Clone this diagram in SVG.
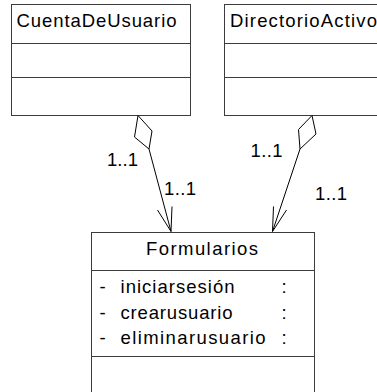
<svg xmlns="http://www.w3.org/2000/svg" width="377" height="392" viewBox="0 0 377 392">
<style>
.box{fill:#fff;stroke:#3c3c3c;stroke-width:1}
.ln{stroke:#3c3c3c;stroke-width:1;fill:none}
.t{font-family:"Liberation Sans",Arial,sans-serif;font-size:18.5px;fill:#000}
.c{stroke:#000;stroke-width:1;fill:none}
.d{stroke:#000;stroke-width:1;fill:#fff}
</style>
<rect width="377" height="392" fill="#fff"/>
<g id="CuentaDeUsuario">
<rect class="box" x="11.5" y="4.5" width="179" height="111"/>
<line class="ln" x1="11.5" y1="43.5" x2="190.5" y2="43.5"/>
<line class="ln" x1="11.5" y1="77.5" x2="190.5" y2="77.5"/>
<text class="t" x="16.5" y="27" textLength="160" lengthAdjust="spacing">CuentaDeUsuario</text>
</g>
<g id="DirectorioActivo">
<rect class="box" x="224.5" y="4.5" width="170" height="111"/>
<line class="ln" x1="224.5" y1="43.5" x2="394.5" y2="43.5"/>
<line class="ln" x1="224.5" y1="77.5" x2="394.5" y2="77.5"/>
<text class="t" x="230" y="27" textLength="147" lengthAdjust="spacing">DirectorioActivo</text>
</g>
<g id="Formularios">
<rect class="box" x="91.5" y="232.5" width="223" height="170"/>
<line class="ln" x1="91.5" y1="270.5" x2="314.5" y2="270.5"/>
<line class="ln" x1="91.5" y1="356.5" x2="314.5" y2="356.5"/>
<text class="t" x="146" y="255" textLength="112" lengthAdjust="spacing">Formularios</text>
<text class="t" x="99.5" y="293">-</text>
<text class="t" x="120.5" y="293" textLength="114" lengthAdjust="spacing">iniciarsesión</text>
<text class="t" x="281.5" y="293">:</text>
<text class="t" x="99.5" y="319">-</text>
<text class="t" x="120.5" y="319" textLength="112" lengthAdjust="spacing">crearusuario</text>
<text class="t" x="281.5" y="319">:</text>
<text class="t" x="99.5" y="343.5">-</text>
<text class="t" x="120.5" y="343.5" textLength="145" lengthAdjust="spacing">eliminarusuario</text>
<text class="t" x="281.5" y="343.5">:</text>
</g>
<g id="connectors">
<polygon class="d" points="138,115.5 152,131 149,149 134.5,137"/>
<line class="c" x1="149" y1="149" x2="171" y2="231.5"/>
<polyline class="c" points="157.5,210 171,231.5 172,206.5"/>
<text class="t" x="107" y="165.5" textLength="31" lengthAdjust="spacing">1..1</text>
<text class="t" x="164" y="195" textLength="32" lengthAdjust="spacing">1..1</text>
<polygon class="d" points="312,115.5 316,134 300,149 298.5,129.5"/>
<line class="c" x1="300" y1="149" x2="272.5" y2="231.5"/>
<polyline class="c" points="273.5,206.5 272.5,231.5 286.5,210"/>
<text class="t" x="250.5" y="157" textLength="32" lengthAdjust="spacing">1..1</text>
<text class="t" x="315" y="200" textLength="32" lengthAdjust="spacing">1..1</text>
</g>
</svg>
